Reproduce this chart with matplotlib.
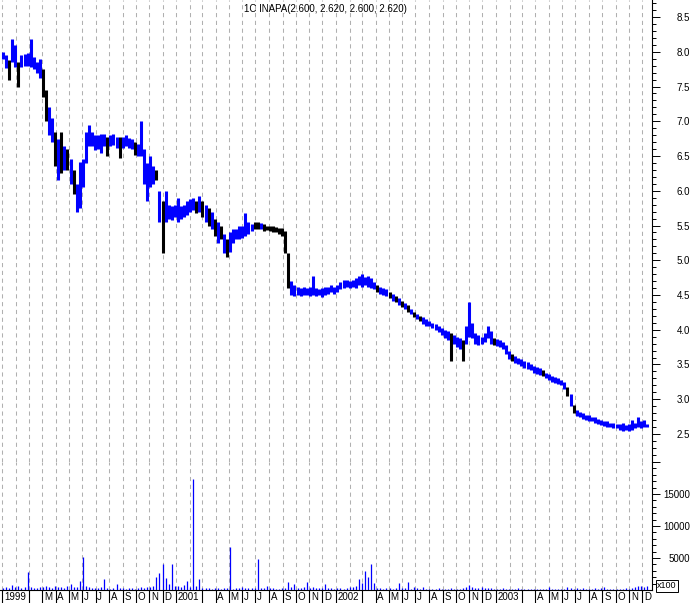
import numpy as np
import pandas as pd
import matplotlib
matplotlib.use("Agg")
import matplotlib.pyplot as plt
import matplotlib.dates as mdates

plt.rcParams["font.family"] = ["Liberation Sans", "DejaVu Sans"]

title = "1C INAPA(2.600, 2.620, 2.600, 2.620)"

# weekly bars, first week ending 1999-12-03
week_low = [
    7.90, 7.77, 7.60, 7.85, 7.78, 7.50, 7.78, 7.80, 7.80, 7.78,
    7.75, 7.70, 7.62, 7.35, 7.00, 6.80, 6.70, 6.35, 6.15, 6.25,
    6.30, 6.30, 6.10, 5.95, 5.70, 5.75, 6.05, 6.40, 6.65, 6.65,
    6.58, 6.60, 6.55, 6.65, 6.50, 6.65, 6.66, 6.62, 6.47, 6.62,
    6.64, 6.62, 6.60, 6.52, 6.50, 6.50, 6.10, 5.85, 6.05, 6.10,
    6.15, 5.55, 5.10, 5.55, 5.60, 5.58, 5.62, 5.55, 5.60, 5.62,
    5.65, 5.70, 5.72, 5.68, 5.70, 5.62, 5.55, 5.50, 5.45, 5.35,
    5.25, 5.30, 5.10, 5.05, 5.12, 5.25, 5.30, 5.30, 5.32, 5.35,
    5.38, 5.42, 5.45, 5.45, 5.45, 5.42, 5.43, 5.42, 5.40, 5.40,
    5.38, 5.35, 5.10, 4.60, 4.50, 4.48, 4.50, 4.48, 4.50, 4.50,
    4.48, 4.50, 4.48, 4.50, 4.47, 4.50, 4.52, 4.55, 4.52, 4.55,
    4.58, 4.60, 4.62, 4.60, 4.62, 4.60, 4.64, 4.62, 4.65, 4.62,
    4.60, 4.58, 4.55, 4.52, 4.50, 4.48, 4.45, 4.42, 4.40, 4.36,
    4.33, 4.30, 4.26, 4.22, 4.18, 4.16, 4.12, 4.08, 4.05, 4.05,
    4.02, 4.00, 3.97, 3.92, 3.88, 3.85, 3.55, 3.80, 3.75, 3.72,
    3.55, 3.80, 3.90, 3.88, 3.80, 3.78, 3.80, 3.82, 3.88, 3.80,
    3.78, 3.76, 3.75, 3.72, 3.65, 3.58, 3.55, 3.52, 3.50, 3.48,
    3.45, 3.44, 3.42, 3.38, 3.36, 3.35, 3.33, 3.30, 3.28, 3.25,
    3.24, 3.22, 3.20, 3.15, 3.05, 2.90, 2.80, 2.76, 2.74, 2.72,
    2.70, 2.69, 2.68, 2.66, 2.65, 2.63, 2.62, 2.60, 2.60, 2.58,
    2.58, 2.56, 2.55, 2.56, 2.54, 2.56, 2.58, 2.60, 2.58, 2.60, 2.60,
]
week_high = [
    8.00, 7.95, 7.88, 8.18, 8.10, 7.85, 7.95, 7.97, 7.98, 8.18,
    7.92, 7.85, 7.90, 7.75, 7.45, 7.20, 7.05, 6.85, 6.75, 6.85,
    6.65, 6.60, 6.45, 6.30, 6.10, 6.42, 6.45, 6.85, 6.95, 6.85,
    6.80, 6.80, 6.82, 6.82, 6.78, 6.80, 6.82, 6.78, 6.78, 6.78,
    6.80, 6.76, 6.74, 6.70, 6.68, 7.00, 6.60, 6.40, 6.50, 6.35,
    6.30, 6.00, 5.85, 6.00, 5.80, 5.78, 5.80, 5.90, 5.78, 5.80,
    5.85, 5.88, 5.90, 5.85, 5.92, 5.85, 5.80, 5.75, 5.70, 5.60,
    5.55, 5.50, 5.38, 5.30, 5.40, 5.45, 5.45, 5.50, 5.50, 5.68,
    5.55, 5.52, 5.55, 5.55, 5.54, 5.52, 5.50, 5.50, 5.50, 5.48,
    5.47, 5.46, 5.42, 5.10, 4.70, 4.65, 4.62, 4.60, 4.62, 4.60,
    4.62, 4.78, 4.60, 4.58, 4.60, 4.62, 4.62, 4.65, 4.62, 4.65,
    4.68, 4.72, 4.72, 4.70, 4.72, 4.74, 4.78, 4.80, 4.76, 4.78,
    4.75, 4.68, 4.65, 4.62, 4.60, 4.58, 4.55, 4.52, 4.48, 4.45,
    4.42, 4.38, 4.35, 4.30, 4.26, 4.22, 4.20, 4.18, 4.15, 4.12,
    4.10, 4.08, 4.06, 4.02, 4.00, 3.98, 3.95, 3.92, 3.90, 3.88,
    3.85, 4.05, 4.40, 4.10, 3.95, 3.92, 3.90, 3.95, 4.05, 3.98,
    3.88, 3.86, 3.85, 3.82, 3.78, 3.70, 3.65, 3.62, 3.60, 3.58,
    3.55, 3.54, 3.50, 3.48, 3.46, 3.45, 3.42, 3.38, 3.36, 3.34,
    3.32, 3.30, 3.28, 3.25, 3.18, 3.08, 2.92, 2.85, 2.82, 2.80,
    2.78, 2.77, 2.75, 2.74, 2.72, 2.70, 2.68, 2.68, 2.66, 2.66,
    2.65, 2.64, 2.66, 2.63, 2.64, 2.70, 2.66, 2.75, 2.68, 2.70, 2.65,
]
# weeks whose bars are drawn black (down weeks); all others are blue
black_weeks = [2, 5, 13, 14, 17, 19, 21, 23, 34, 38, 43, 50, 52, 63, 65,
               67, 69, 71, 73, 82, 83, 85, 86, 87, 88, 89, 90, 91, 92, 93,
               122, 126, 128, 130, 132, 134, 136, 146, 150, 160, 166, 176,
               184, 186]
# volume in hundreds of shares
week_volume = [
    300, 450, 350, 800, 400, 600, 350, 500, 2860, 450,
    350, 300, 500, 400, 700, 450, 350, 600, 400, 500,
    300, 650, 1000, 400, 500, 1400, 5200, 600, 400, 350,
    300, 250, 400, 1700, 300, 200, 350, 900, 250, 300,
    200, 250, 300, 200, 300, 400, 350, 450, 500, 700,
    2100, 2650, 4060, 1800, 900, 4060, 700, 600, 500, 800,
    1400, 500, 17340, 600, 1700, 300, 250, 350, 200, 300,
    250, 200, 300, 250, 6700, 200, 300, 250, 400, 300,
    350, 300, 250, 4840, 300, 250, 600, 300, 250, 200,
    200, 250, 300, 1300, 400, 1000, 300, 250, 500, 1250,
    300, 400, 250, 300, 350, 1000, 300, 250, 200, 300,
    250, 200, 300, 400, 500, 600, 1700, 1100, 3000, 2100,
    4060, 1100, 300, 250, 200, 300, 250, 200, 300, 1150,
    300, 250, 1300, 200, 500, 250, 200, 500, 200, 150,
    200, 150, 300, 200, 150, 200, 250, 200, 150, 200,
    250, 500, 750, 400, 350, 300, 400, 300, 250, 300,
    200, 150, 200, 250, 200, 150, 200, 150, 300, 150,
    100, 150, 200, 150, 100, 150, 200, 150, 500, 200,
    150, 200, 150, 200, 500, 250, 200, 300, 200, 250,
    200, 150, 200, 250, 200, 300, 450, 200, 150, 200,
    150, 200, 150, 250, 200, 300, 400, 600, 700, 500, 650,
]

# month ticks from Dec 1999; None = tick hidden under year label, "" = bare tick
month_text = [
    "1999",
    None, "", "M", "A", "M", "J", "J", "A", "S", "O", "N", "D",
    "2001", None, "", "A", "M", "J", "J", "A", "S", "O", "N", "D",
    "2002", None, "", "A", "M", "J", "J", "A", "S", "O", "N", "D",
    "2003", None, "", "A", "M", "J", "J", "A", "S", "O", "N", "D",
]

price_ticks = [2.5, 3.0, 3.5, 4.0, 4.5, 5.0, 5.5, 6.0, 6.5, 7.0, 7.5, 8.0, 8.5]
volume_ticks = [5000, 10000, 15000, 20000]
volume_labels = ["5000", "10000", "15000", ""]

W, H = 692, 603
BLUE = "#0000ff"

fig = plt.figure(figsize=(W / 100, H / 100), dpi=100)
ax_p = fig.add_axes([0, 1 - 462 / H, 652 / W, 462 / H])
ax_v = fig.add_axes([0, 1 - 590 / H, 652 / W, 128 / H])

dates = pd.date_range("1999-12-03", periods=len(week_high), freq="W-FRI")
xd = mdates.date2num(dates)
lo = np.array(week_low)
hi = np.array(week_high)
colors = ["black" if k in black_weeks else BLUE for k in range(len(hi))]

months = pd.date_range("1999-12-01", periods=len(month_text), freq="MS")
mx = mdates.date2num(months)
x0 = mdates.date2num(pd.Timestamp("1999-11-26"))
x1 = mdates.date2num(pd.Timestamp("2003-12-23"))

for ax in (ax_p, ax_v):
    ax.set_xlim(x0, x1)
    ax.patch.set_alpha(0)
    for m in mx:
        ax.axvline(m, color="#b0b0b0", lw=0.75, dashes=(4, 3.5), zorder=0)
    for s in ("top", "left"):
        ax.spines[s].set_visible(False)
    ax.spines["right"].set_linewidth(0.8)
    ax.yaxis.tick_right()
    ax.tick_params(axis="y", which="major", direction="out", length=5.8,
                   width=0.7, labelsize=7, pad=21.5)
    ax.tick_params(axis="y", which="minor", direction="out", length=2.9, width=0.7)

# price bars, one per week, wide enough to touch their neighbours
ax_p.vlines(xd, lo, hi, colors=colors, lw=2.2, zorder=3)
ax_p.set_ylim(2.097, 8.745)
ax_p.spines["bottom"].set_visible(False)
ax_p.set_xticks([])
ax_p.set_yticks(price_ticks)
ax_p.set_yticklabels([f"{v:.1f}" for v in price_ticks])
ax_p.set_yticks(np.arange(2.1, 8.71, 0.1), minor=True)
for lab in ax_p.get_yticklabels():
    lab.set_horizontalalignment("right")

# volume bars
ax_v.vlines(xd, 0, week_volume, colors=BLUE, lw=0.9, zorder=3)
ax_v.set_ylim(0, 20000)
ax_v.spines["bottom"].set_linewidth(0.8)
ax_v.set_yticks(volume_ticks)
ax_v.set_yticklabels(volume_labels)
ax_v.set_yticks(np.arange(1000, 20000, 1000), minor=True)
for lab in ax_v.get_yticklabels():
    lab.set_horizontalalignment("right")

shown = [m for m, t in zip(mx, month_text) if t is not None]
ax_v.set_xticks(shown)
ax_v.tick_params(axis="x", direction="out", length=9.5, width=0.8, labelbottom=False)
tr = ax_v.get_xaxis_transform()
for m, t in zip(mx, month_text):
    if t:
        ax_v.text(m + 4, -0.055, t, transform=tr, ha="left", va="center", fontsize=7)

fig.text(325 / W, 1 - 9 / H, title, ha="center", va="center", fontsize=7)
fig.text(657 / W, 1 - 586 / H, "x100", ha="left", va="center", fontsize=6.5,
         bbox=dict(boxstyle="square,pad=0.15", fc="white", ec="black", lw=0.7))

fig.savefig("out.png", dpi=100)
